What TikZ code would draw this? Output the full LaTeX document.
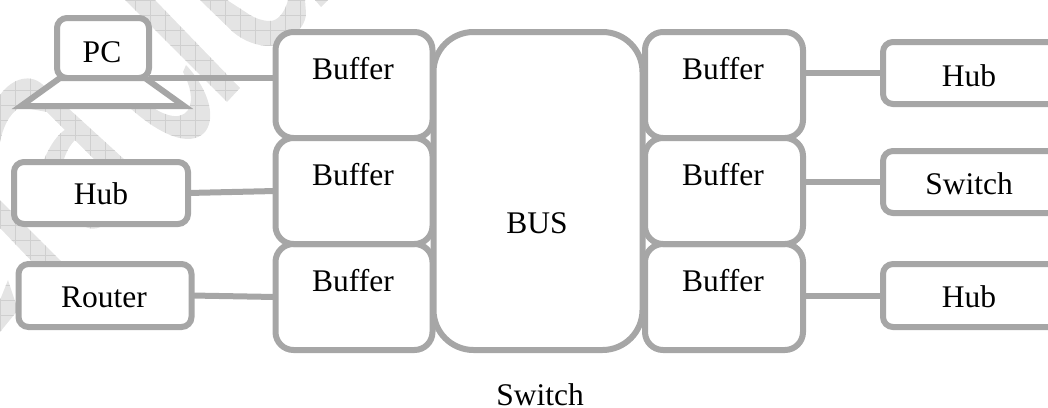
\documentclass[tikz,border=0pt]{standalone}
\usepackage{fontspec}
\setmainfont{Liberation Serif}
\definecolor{ln}{HTML}{A6A6A6}
\definecolor{wmf}{HTML}{E4E4E4}
\definecolor{wml}{HTML}{CFCFCF}
\newcommand{\wmshape}[1]{%
  \fill[wmf] #1;
  \begin{scope}
    \clip #1;
    \foreach \gx in {0,15,...,345} {\draw[wml,line width=.5pt] (\gx,0) -- (\gx,345);}
    \foreach \gy in {0,15,...,345} {\draw[wml,line width=.5pt] (0,\gy) -- (345,\gy);}
  \end{scope}}
\tikzset{
  box/.style={draw=ln,fill=white,line width=6pt,rectangle,inner sep=0pt,outer sep=0pt,rounded corners=#1},
  box/.default=10pt,
  wire/.style={draw=ln,line width=6pt},
  txt/.style={anchor=base,inner sep=0pt,outer sep=0pt,text=black,font=\fontsize{31.5}{36}\selectfont}
}
\begin{document}
\begin{tikzpicture}[x=1pt,y=-1pt]
\useasboundingbox (0,0) rectangle (1048,407);
\clip (0,0) rectangle (1048,407);
% watermark
\wmshape{(125,0) -- (155,0) -- (240,88) -- (227,102) -- cycle}
\wmshape{(186,65) .. controls (205,85) and (218,115) .. (205,132) .. controls (190,148) and (160,135) .. (130,108) -- (143,100) .. controls (160,115) and (180,122) .. (188,110) .. controls (194,100) and (190,85) .. (183,72) -- cycle}
\wmshape{(0,95) .. controls (12,78) and (32,72) .. (45,87) -- (125,160) -- (95,160) -- (47,112) -- (20,107) .. controls (8,115) and (3,128) .. (0,142) -- cycle}
\wmshape{(43,162) .. controls (50,145) and (58,133) .. (68,128) -- (80,130) -- (75,140) .. controls (70,145) and (66,152) .. (63,162) -- cycle}
\wmshape{(80,222) -- (106,222) .. controls (100,231) and (86,231) .. (80,222) -- cycle}
\wmshape{(0,200) -- (70,270) -- (40,270) -- (0,228) -- cycle}
\wmshape{(8,280) -- (18,310) -- (0,332) -- (0,300) -- cycle}
\wmshape{(200,0) -- (233,32) .. controls (245,42) and (258,46) .. (270,46) .. controls (285,44) and (306,30) .. (306,13) -- (305,0) -- (288,0) .. controls (285,12) and (278,21) .. (270,21) .. controls (262,21) and (255,18) .. (250,15) -- (227,0) -- cycle}
\wmshape{(315,0) -- (328,0) -- (321,7) -- cycle}
% connector layer first
\node[box=40pt,minimum width=209pt,minimum height=318pt] (bus) at (538,191) {};
\node[box=18pt,minimum width=157pt,minimum height=106pt] (bL1) at (354,85) {};
\node[box=18pt,minimum width=157pt,minimum height=106pt] (bL3) at (354,297) {};
\node[box=18pt,minimum width=157pt,minimum height=106pt] (bL2) at (354,191) {};
\node[box=18pt,minimum width=158pt,minimum height=106pt] (bR1) at (724,85) {};
\node[box=18pt,minimum width=158pt,minimum height=106pt] (bR3) at (724,297) {};
\node[box=18pt,minimum width=158pt,minimum height=106pt] (bR2) at (724,191) {};
\node[box=10pt,minimum width=92pt,minimum height=60pt] (pc) at (103,48) {};
\draw[wire,fill=white] (pc.south west)++(3,0) coordinate (tl) -- (145,78) coordinate (tr) -- (184,106) coordinate (br) -- (21,106) coordinate (bl) -- cycle;
\node[box=10pt,minimum width=174pt,minimum height=62pt] (hubL) at (101,193) {};
\node[box=10pt,minimum width=173pt,minimum height=63pt] (router) at (105,295.5) {};
\node[box=10pt,minimum width=180pt,minimum height=62pt] (hubR1) at (973,73) {};
\node[box=10pt,minimum width=180pt,minimum height=62pt] (swR) at (973,182) {};
\node[box=10pt,minimum width=180pt,minimum height=63pt] (hubR3) at (973,295.5) {};
% connectors
\draw[wire] (pc.south east) -- (bL1.west |- pc.south);
\draw[wire] (hubL.east) -- (bL2.west);
\draw[wire] (router.east) -- (bL3.west);
\draw[wire] (bR1.east |- hubR1.west) -- (hubR1.west);
\draw[wire] (bR2.east |- swR.west) -- (swR.west);
\draw[wire] (bR3.east |- hubR3.west) -- (hubR3.west);
% texts
\node[txt] (tpc) at (102,62) {PC};
\node[txt] (tbL1) at (353,79) {Buffer};
\node[txt] (tbL2) at (353,185) {Buffer};
\node[txt] (tbL3) at (353,291) {Buffer};
\node[txt] (tbR1) at (723,79) {Buffer};
\node[txt] (tbR2) at (723,185) {Buffer};
\node[txt] (tbR3) at (723,291) {Buffer};
\node[txt] (thubL) at (101,204) {Hub};
\node[txt] (trouter) at (104,307) {Router};
\node[txt] (thubR1) at (969,86) {Hub};
\node[txt] (tswR) at (969,194) {Switch};
\node[txt] (thubR3) at (969,307) {Hub};
\node[txt] (tbus) at (537,233) {BUS};
\node[txt] (tcap) at (540,405) {Switch};
\end{tikzpicture}
\end{document}
